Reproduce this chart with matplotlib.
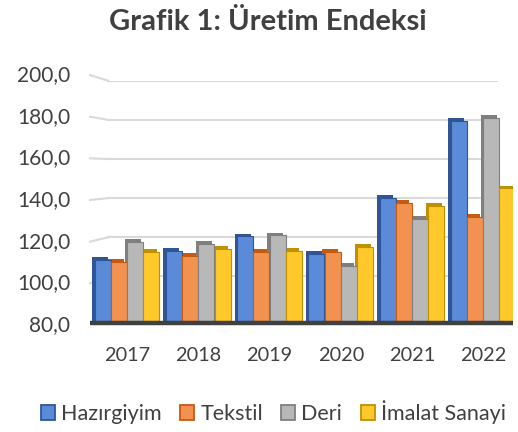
import numpy as np
import matplotlib
matplotlib.use("Agg")
import matplotlib.pyplot as plt
from matplotlib.patches import Patch

plt.rcParams["font.family"] = ["Lato", "DejaVu Sans"]

# values
years = ["2017", "2018", "2019", "2020", "2021", "2022"]
hazirgiyim = [108.5, 113.0, 120.5, 111.5, 140.0, 179.5]
tekstil = [107.5, 110.5, 112.5, 112.5, 137.5, 130.5]
deri = [117.5, 116.5, 121.0, 105.5, 129.5, 181.0]
imalat = [112.5, 114.0, 113.0, 115.0, 136.0, 145.0]

series = [hazirgiyim, tekstil, deri, imalat]
names = ["Hazırgiyim", "Tekstil", "Deri", "İmalat Sanayi"]
faces = ["#5B8BD8", "#F39250", "#B8B8B8", "#FFC92B"]
darks = ["#2F5597", "#C55A11", "#7F7F7F", "#BF9000"]
ticks = [80, 100, 120, 140, 160, 180, 200]
txt = "#404040"

fig = plt.figure(figsize=(5.18, 4.32), dpi=100)
# floor of the 3d box sits a bit under 80
ax = fig.add_axes([90/518, 1-320.5/432, 423/518, 239.8/432])
ax.set_xlim(-0.52, 5.42)
ax.set_ylim(77.5, 200)
ax.axis("off")

x = np.arange(len(years))
w = 0.225
gap = 0.228


def back(t):
    # label / back wall height for a tick (perspective)
    return 75.2 + (t - 80) * 1.064


# gridlines with the slanted stub on the left
for t in ticks[1:]:
    ax.plot([-0.267, 5.2], [t, t], color="#D9D9D9", lw=1.5, zorder=0)
    ax.plot([-0.52, -0.267], [back(t), t], color="#D9D9D9", lw=1.5,
            zorder=0, clip_on=False)
for t in ticks:
    ax.text(-0.80, back(t), f"{t},0", ha="right", va="center", fontsize=15,
            color=txt, clip_on=False)

# bars: dark side/top first, front face on top
for i, vals in enumerate(series):
    xs = x + (i - 1.5) * gap
    h = np.array(vals) - 77.5
    ax.bar(xs - 0.035, h + 1.4, width=w, bottom=77.5, color=darks[i],
           zorder=2)
    ax.bar(xs, h, width=w, bottom=77.5, color=faces[i], edgecolor=darks[i],
           linewidth=0.8, zorder=3)

# floor
ax.plot([-0.52, 5.42], [76.0, 76.0], color="#404040", lw=3.2, zorder=4,
        clip_on=False, solid_capstyle="butt")

for xi, y in zip(x, years):
    ax.text(xi, 59.5, y, ha="center", va="center", fontsize=14.3,
            color=txt, clip_on=False)

fig.text(267.5/518, 1 - 22/432, "Grafik 1: Üretim Endeksi", ha="center",
         va="center", fontsize=21, fontweight="bold", color=txt)

handles = [Patch(facecolor=faces[i], edgecolor=darks[i], linewidth=1.3)
           for i in range(4)]
fig.legend(handles, names, loc="center",
           bbox_to_anchor=(273.5/518, 1-412/432), ncol=4, frameon=False,
           fontsize=15.5, handlelength=0.65, handleheight=0.65,
           handletextpad=0.28, columnspacing=0.85, labelcolor=txt)

fig.savefig("out.png", dpi=100, facecolor="white")
